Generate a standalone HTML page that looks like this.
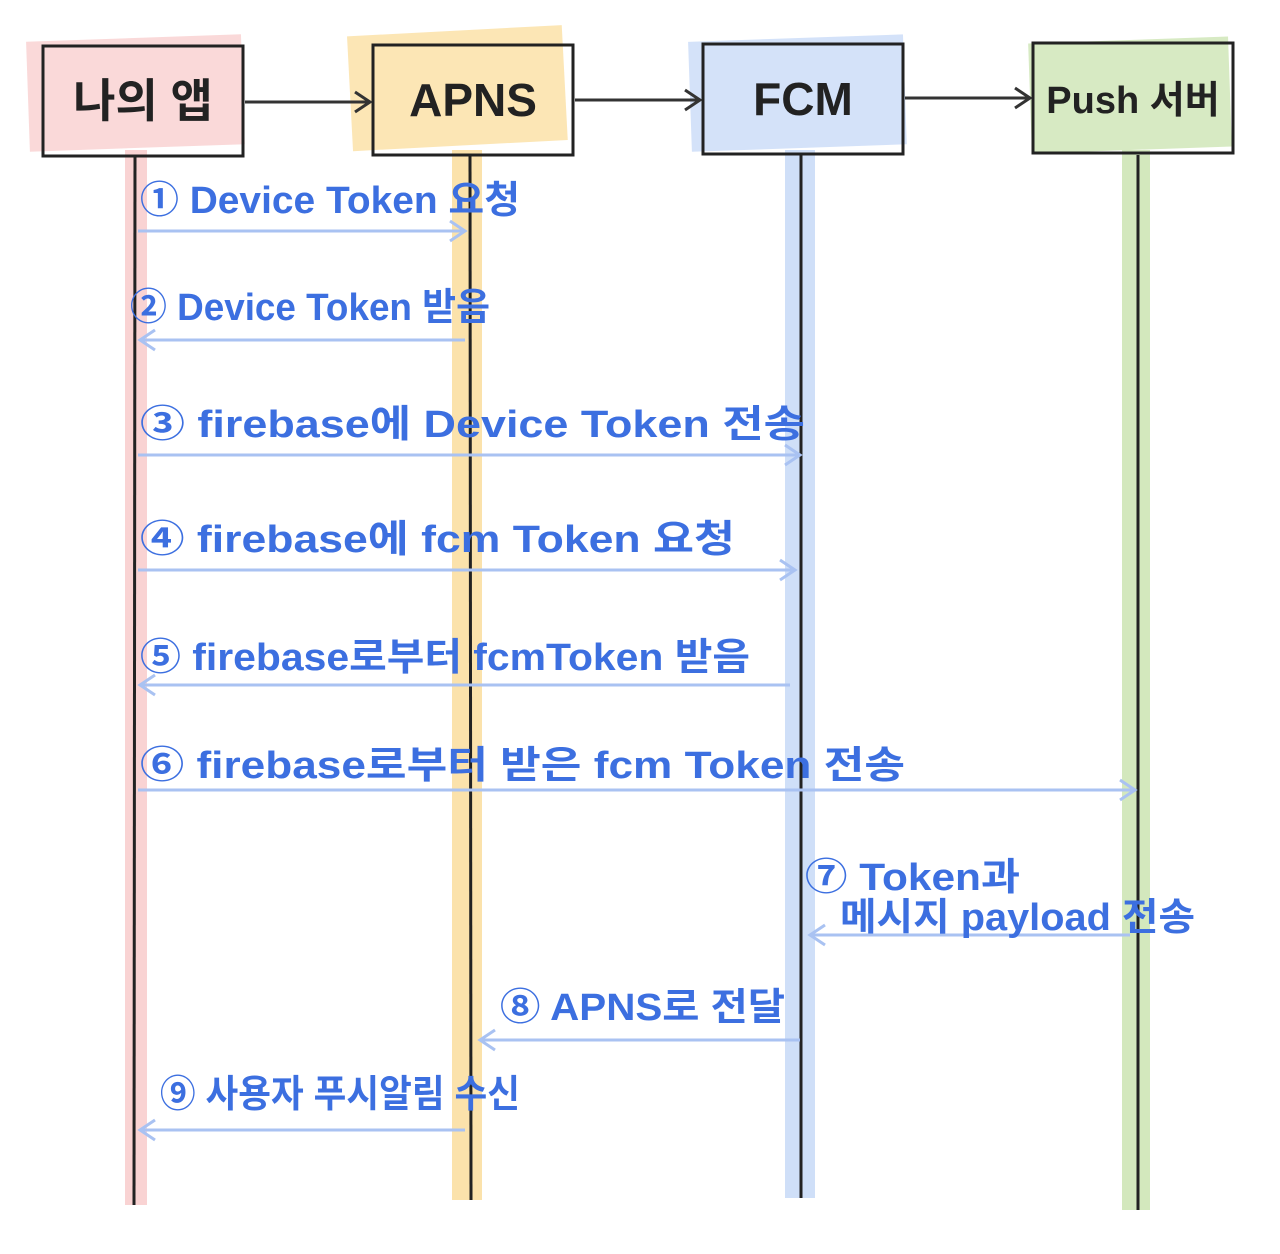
<!DOCTYPE html>
<html><head><meta charset="utf-8"><style>
html,body{margin:0;padding:0;background:#fff;}
svg{display:block;}
text{font-family:"Liberation Sans","Noto Sans CJK KR",sans-serif;}
</style></head><body>
<svg width="1280" height="1254" viewBox="0 0 1280 1254">
<rect x="28" y="38" width="215" height="110" fill="#f9d0d0" opacity="0.8" transform="rotate(-2 135 95)"/>
<rect x="350" y="30" width="215" height="115" fill="#fbe2a8" opacity="0.85" transform="rotate(-3 470 90)"/>
<rect x="690" y="38" width="215" height="110" fill="#cfdff8" opacity="0.9" transform="rotate(-2 800 95)"/>
<rect x="1030" y="40" width="200" height="110" fill="#d3e8bd" opacity="0.9" transform="rotate(-2 1130 95)"/>
<rect x="125" y="150" width="22" height="1055" fill="#f9d3d3"/>
<rect x="452" y="150" width="30" height="1050" fill="#fbe2ab"/>
<rect x="785" y="150" width="30" height="1048" fill="#cfdff8"/>
<rect x="1122" y="150" width="28" height="1060" fill="#d3e8bd"/>
<g stroke="#222" stroke-width="3">
<line x1="135" y1="155" x2="134" y2="1205"/>
<line x1="470" y1="155" x2="471" y2="1200"/>
<line x1="801" y1="155" x2="801" y2="1198"/>
<line x1="1138" y1="155" x2="1138" y2="1210"/>
</g>
<g fill="none" stroke="#222" stroke-width="3">
<rect x="43" y="46" width="200" height="110"/>
<rect x="373" y="45" width="200" height="110"/>
<rect x="703" y="44" width="200" height="110"/>
<rect x="1033" y="43" width="200" height="110"/>
</g>
<g fill="#222" text-anchor="middle" font-size="46" font-weight="bold">
<text x="143" y="117">나의 앱</text>
<text x="473" y="116">APNS</text>
<text x="803" y="115">FCM</text>
<text x="1133" y="113" font-size="38">Push 서버</text>
</g>
<g stroke="#333" stroke-width="3" fill="none">
<line x1="245" y1="102" x2="370" y2="102"/><polyline points="355,92 370,102 355,112"/>
<line x1="575" y1="100" x2="700" y2="100"/><polyline points="685,90 700,100 685,110"/>
<line x1="905" y1="98" x2="1030" y2="98"/><polyline points="1015,88 1030,98 1015,108"/>
</g>
<g stroke="#a9c2f2" stroke-width="3" fill="none">
<line x1="138" y1="231" x2="465" y2="231"/><polyline points="450,221 465,231 450,241"/>
<line x1="465" y1="340" x2="140" y2="340"/><polyline points="155,330 140,340 155,350"/>
<line x1="138" y1="455" x2="800" y2="455"/><polyline points="785,445 800,455 785,465"/>
<line x1="138" y1="570" x2="795" y2="570"/><polyline points="780,560 795,570 780,580"/>
<line x1="790" y1="685" x2="140" y2="685"/><polyline points="155,675 140,685 155,695"/>
<line x1="138" y1="790" x2="1135" y2="790"/><polyline points="1120,780 1135,790 1120,800"/>
<line x1="1130" y1="935" x2="810" y2="935"/><polyline points="825,925 810,935 825,945"/>
<line x1="800" y1="1040" x2="480" y2="1040"/><polyline points="495,1030 480,1040 495,1050"/>
<line x1="465" y1="1130" x2="140" y2="1130"/><polyline points="155,1120 140,1130 155,1140"/>
</g>
<g fill="#3c6fe0" font-size="38" font-weight="bold" lengthAdjust="spacingAndGlyphs">
<text x="140" y="213" textLength="380" lengthAdjust="spacingAndGlyphs">① Device Token 요청</text>
<text x="130" y="320" textLength="360" lengthAdjust="spacingAndGlyphs">② Device Token 받음</text>
<text x="140" y="437" textLength="665" lengthAdjust="spacingAndGlyphs">③ firebase에 Device  Token 전송</text>
<text x="140" y="552" textLength="595" lengthAdjust="spacingAndGlyphs">④ firebase에  fcm Token 요청</text>
<text x="140" y="670" textLength="610" lengthAdjust="spacingAndGlyphs">⑤ firebase로부터 fcmToken 받음</text>
<text x="140" y="778" textLength="765" lengthAdjust="spacingAndGlyphs">⑥ firebase로부터 받은 fcm Token 전송</text>
<text x="805" y="890" textLength="215" lengthAdjust="spacingAndGlyphs">⑦ Token과</text>
<text x="840" y="930" textLength="355" lengthAdjust="spacingAndGlyphs">메시지 payload 전송</text>
<text x="500" y="1020" textLength="285" lengthAdjust="spacingAndGlyphs">⑧  APNS로 전달</text>
<text x="160" y="1107" textLength="360" lengthAdjust="spacingAndGlyphs">⑨ 사용자 푸시알림 수신</text>
</g>
</svg>
</body></html>
